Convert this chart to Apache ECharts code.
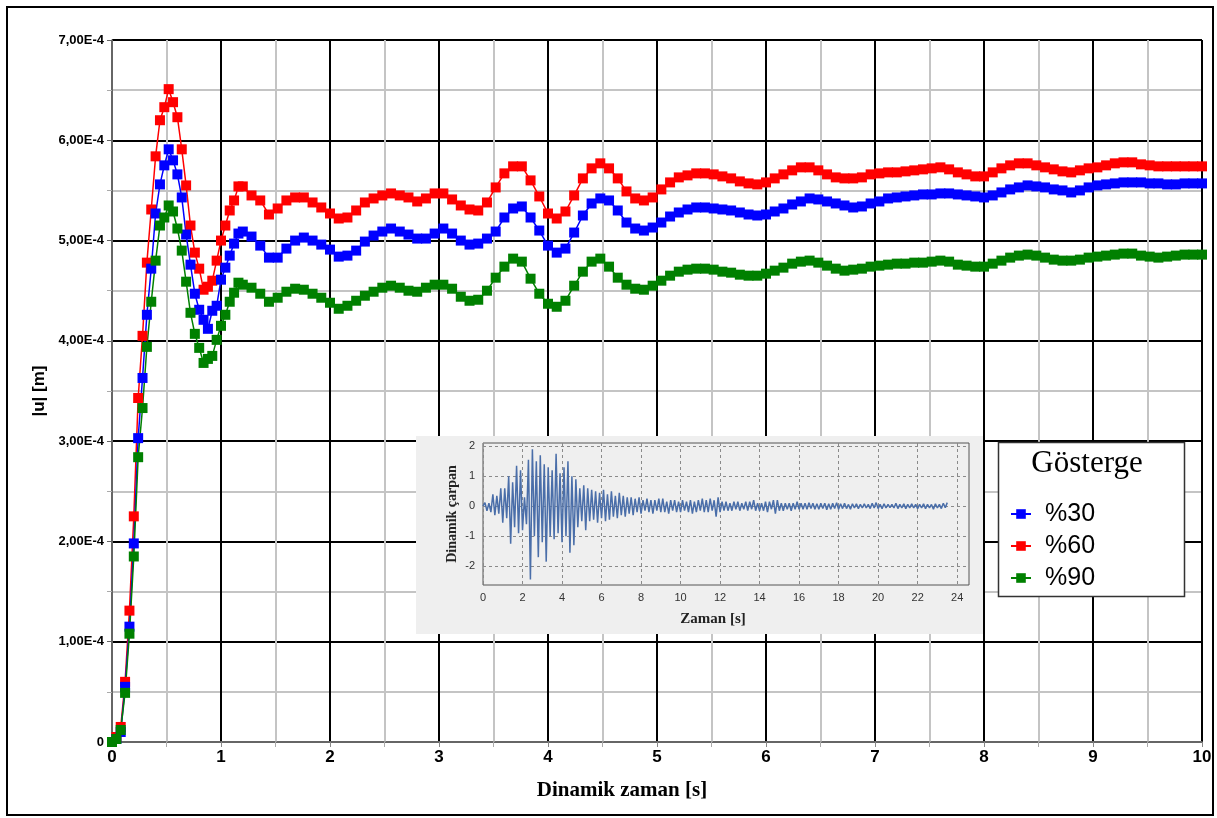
<!DOCTYPE html>
<html>
<head>
<meta charset="utf-8">
<script src="https://cdn.jsdelivr.net/npm/echarts@6/dist/echarts.min.js"></script>
<style>
  html, body { margin: 0; padding: 0; background: #fff; }
  #chart { width: 1217px; height: 818px; }
</style>
</head>
<body>
<div id="chart"></div>
<script>
// Displacement |u| in units of 1e-4 m, sampled every 0.04 s up to 1.2 s, then every 0.08 s
const dispRed60 = [
  0, 0.05, 0.15, 0.60, 1.31, 2.25, 3.43, 4.05, 4.78, 5.31,
  5.84, 6.20, 6.33, 6.51, 6.38, 6.23, 5.91, 5.55, 5.15, 4.88,
  4.72, 4.51, 4.54, 4.60, 4.80, 5.00, 5.15, 5.30, 5.40, 5.54, 5.54,
  5.45, 5.40, 5.26, 5.32, 5.40, 5.43, 5.43, 5.38, 5.33, 5.27,
  5.22, 5.23, 5.30, 5.38, 5.42, 5.45, 5.47, 5.45, 5.43, 5.39,
  5.42, 5.47, 5.47, 5.41, 5.35, 5.31, 5.30, 5.38, 5.53, 5.67,
  5.74, 5.74, 5.60, 5.44, 5.27, 5.22, 5.29, 5.45, 5.62, 5.72,
  5.77, 5.72, 5.62, 5.49, 5.42, 5.40, 5.43, 5.51, 5.58, 5.63,
  5.65, 5.67, 5.67, 5.66, 5.64, 5.62, 5.59, 5.57, 5.56, 5.58,
  5.62, 5.66, 5.70, 5.73, 5.73, 5.70, 5.66, 5.63, 5.62, 5.62,
  5.63, 5.66, 5.67, 5.68, 5.68, 5.69, 5.70, 5.71, 5.72, 5.73,
  5.71, 5.68, 5.66, 5.64, 5.64, 5.68, 5.72, 5.75, 5.77, 5.77,
  5.75, 5.73, 5.71, 5.69, 5.68, 5.70, 5.72, 5.73, 5.75, 5.77,
  5.78, 5.78, 5.76, 5.75, 5.74, 5.74, 5.74, 5.74, 5.74, 5.74
];
const dispBlue30 = [
  0, 0.03, 0.10, 0.55, 1.15, 1.98, 3.03, 3.63, 4.26, 4.72,
  5.27, 5.56, 5.75, 5.91, 5.80, 5.66, 5.43, 5.06, 4.76, 4.47,
  4.31, 4.21, 4.12, 4.30, 4.35, 4.61, 4.73, 4.85, 4.97, 5.07, 5.09,
  5.04, 4.95, 4.83, 4.83, 4.92, 5.00, 5.03, 5.00, 4.96, 4.91,
  4.84, 4.85, 4.90, 4.99, 5.05, 5.09, 5.12, 5.09, 5.06, 5.02,
  5.02, 5.07, 5.12, 5.07, 5.00, 4.96, 4.97, 5.02, 5.09, 5.23,
  5.32, 5.34, 5.23, 5.10, 4.95, 4.88, 4.92, 5.08, 5.25, 5.37,
  5.42, 5.40, 5.30, 5.18, 5.12, 5.10, 5.13, 5.18, 5.24, 5.28,
  5.31, 5.33, 5.33, 5.32, 5.31, 5.30, 5.28, 5.26, 5.25, 5.26,
  5.29, 5.32, 5.36, 5.39, 5.42, 5.41, 5.39, 5.37, 5.35, 5.33,
  5.34, 5.37, 5.39, 5.42, 5.43, 5.44, 5.45, 5.46, 5.46, 5.47,
  5.47, 5.46, 5.45, 5.44, 5.43, 5.45, 5.48, 5.51, 5.53, 5.55,
  5.54, 5.53, 5.51, 5.50, 5.48, 5.50, 5.53, 5.55, 5.56, 5.57,
  5.58, 5.58, 5.58, 5.57, 5.57, 5.56, 5.56, 5.57, 5.57, 5.57
];
const dispGreen90 = [
  0, 0.03, 0.12, 0.49, 1.08, 1.85, 2.84, 3.33, 3.94, 4.39,
  4.80, 5.15, 5.23, 5.35, 5.29, 5.12, 4.90, 4.59, 4.28, 4.07,
  3.93, 3.78, 3.82, 3.85, 4.01, 4.15, 4.26, 4.39, 4.48, 4.58, 4.56,
  4.53, 4.47, 4.39, 4.43, 4.49, 4.52, 4.51, 4.47, 4.43, 4.38,
  4.32, 4.35, 4.40, 4.45, 4.49, 4.53, 4.55, 4.53, 4.50, 4.49,
  4.53, 4.56, 4.56, 4.52, 4.44, 4.40, 4.41, 4.50, 4.63, 4.74,
  4.82, 4.79, 4.62, 4.47, 4.37, 4.34, 4.40, 4.55, 4.69, 4.79,
  4.82, 4.74, 4.63, 4.56, 4.52, 4.51, 4.55, 4.60, 4.65, 4.69,
  4.71, 4.72, 4.72, 4.71, 4.69, 4.68, 4.66, 4.65, 4.65, 4.67,
  4.70, 4.73, 4.77, 4.79, 4.80, 4.78, 4.75, 4.72, 4.70, 4.71,
  4.72, 4.74, 4.75, 4.76, 4.77, 4.77, 4.78, 4.78, 4.79, 4.80,
  4.79, 4.76, 4.75, 4.74, 4.74, 4.77, 4.80, 4.83, 4.85, 4.86,
  4.85, 4.83, 4.81, 4.80, 4.80, 4.81, 4.83, 4.84, 4.85, 4.86,
  4.87, 4.87, 4.85, 4.84, 4.83, 4.84, 4.85, 4.86, 4.86, 4.86
];

// Input record: dynamic multiplier sampled every 0.1 s (0 - 23.5 s)
const multiplier = [
  0, 0.12, -0.15, 0.1, -0.2, 0.4, -0.3, 0.35, -0.25, 0.6,
  -0.55, 0.6, -0.4, 1.0, -1.25, 0.8, -0.7, 1.35, -0.9, 1.2,
  -0.8, 0.3, -0.6, 1.55, -2.45, 1.9, -1.0, 1.5, -1.7, 1.7,
  -1.2, 1.4, -1.85, 1.3, -1.0, 1.2, -1.1, 1.75, -0.9, 1.1,
  -1.2, 1.3, -1.0, 1.5, -1.55, 1.0, -1.3, 0.9, -0.7, 0.6,
  -0.5, 0.7, -0.8, 0.6, -0.5, 0.55, -0.45, 0.5, -0.55, 0.45,
  -0.4, 0.55, -0.5, 0.4, -0.45, 0.5, -0.35, 0.35, -0.4, 0.45,
  -0.3, 0.35, -0.35, 0.3, -0.25, 0.3, -0.3, 0.25, -0.2, 0.3,
  -0.25, 0.2, -0.15, 0.25, -0.2, 0.2, -0.25, 0.2, -0.15, 0.25,
  -0.2, 0.25, -0.2, 0.15, -0.25, 0.2, -0.15, 0.2, -0.2, 0.15,
  -0.2, 0.2, -0.15, 0.15, -0.2, 0.2, -0.25, 0.15, -0.2, 0.2,
  -0.15, 0.25, -0.2, 0.2, -0.2, 0.25, -0.15, 0.2, -0.35, 0.3,
  -0.2, 0.15, -0.15, 0.15, -0.15, 0.1, -0.15, 0.15, -0.1, 0.15,
  -0.15, 0.1, -0.1, 0.15, -0.15, 0.15, -0.1, 0.2, -0.15, 0.1,
  -0.15, 0.1, -0.15, 0.15, -0.2, 0.15, -0.1, 0.2, -0.25, 0.2,
  -0.15, 0.1, -0.15, 0.1, -0.1, 0.1, -0.15, 0.1, -0.1, 0.15,
  -0.1, 0.1, -0.1, 0.1, -0.1, 0.12, -0.08, 0.1, -0.1, 0.08,
  -0.1, 0.1, -0.08, 0.1, -0.12, 0.08, -0.1, 0.1, -0.08, 0.12,
  -0.1, 0.08, -0.08, 0.1, -0.08, 0.06, -0.1, 0.08, -0.06, 0.08,
  -0.08, 0.06, -0.06, 0.08, -0.06, 0.06, -0.08, 0.1, -0.06, 0.12,
  -0.08, 0.06, -0.08, 0.08, -0.06, 0.06, -0.05, 0.06, -0.06, 0.1,
  -0.08, 0.06, -0.06, 0.08, -0.08, 0.06, -0.06, 0.08, -0.06, 0.06,
  -0.08, 0.06, -0.06, 0.08, -0.08, 0.06, -0.06, 0.06, -0.1, 0.08,
  -0.06, 0.06, -0.08, 0.1, -0.05, 0.12
];

const seriesNames = ['%30', '%60', '%90'];
const yTickValues = [-2, -1, 0, 1, 2];
const xTickValues = [0, 2, 4, 6, 8, 10, 12, 14, 16, 18, 20, 22, 24];

// sample times of the displacement output
const time = [];
for (let k = 0; k <= 30; k++) time.push(+(k * 0.04).toFixed(2));
for (let k = 1; k <= 110; k++) time.push(+(1.2 + k * 0.08).toFixed(2));

// sample times of the input record
const recordTime = multiplier.map((_, i) => +(i * 0.1).toFixed(1));

const pair = (xs, ys) => ys.map((v, i) => [xs[i], v]);

const chart = echarts.init(document.getElementById('chart'), null, { renderer: 'canvas' });

const markerSeries = (name, values, color) => ({
  name: name,
  type: 'line',
  xAxisIndex: 0,
  yAxisIndex: 0,
  data: pair(time, values),
  symbol: 'rect',
  symbolSize: 10,
  showSymbol: true,
  lineStyle: { color: color, width: 1.5 },
  itemStyle: { color: color, borderWidth: 0 },
  emphasis: { disabled: true },
  z: 3
});

const option = {
  animation: false,
  backgroundColor: '#ffffff',
  graphic: [
    { type: 'rect', z: 100, silent: true,
      shape: { x: 7, y: 7, width: 1206, height: 808 },
      style: { fill: 'none', stroke: '#000', lineWidth: 2 } },
    { type: 'rect', z: 50, silent: true,
      shape: { x: 416, y: 436, width: 567, height: 198 },
      style: { fill: '#efefef', stroke: 'none' } },
    { type: 'rect', z: 50, silent: true,
      shape: { x: 998.5, y: 442.5, width: 186, height: 154 },
      style: { fill: '#ffffff', stroke: '#333', lineWidth: 1.5 } },
    { type: 'text', z: 60, silent: true, x: 1087, y: 464,
      style: { text: 'Gösterge', fill: '#000', font: '31px "Liberation Serif", "Times New Roman", serif',
               align: 'center', verticalAlign: 'middle' } }
  ],
  legend: {
    data: seriesNames,
    orient: 'vertical',
    left: 1010,
    top: 500,
    padding: 0,
    itemGap: 4,
    itemWidth: 20,
    itemHeight: 12,
    z: 60,
    textStyle: { fontFamily: '"Liberation Sans", Arial, sans-serif', fontSize: 25, color: '#000', lineHeight: 28, padding: [0, 0, 0, 9] },
    selectedMode: false
  },
  grid: [
    { left: 112, top: 40, width: 1090, height: 702, containLabel: false },
    { left: 483, top: 443, width: 486, height: 142, containLabel: false,
      show: true, backgroundColor: 'transparent', borderColor: '#555', borderWidth: 1, z: 55 }
  ],
  xAxis: [
    {
      gridIndex: 0, type: 'value', min: 0, max: 10, interval: 1,
      name: 'Dinamik zaman [s]', nameLocation: 'middle', nameGap: 38,
      nameTextStyle: { fontFamily: '"Liberation Serif", "Times New Roman", serif', fontWeight: 'bold', fontSize: 21, color: '#000', padding: [0, 70, 0, 0] },
      axisLine: { show: true, onZero: false, lineStyle: { color: '#888', width: 1.5 } },
      axisTick: { show: true, length: 5, lineStyle: { color: '#888' } },
      minorTick: { show: true, splitNumber: 2, length: 5, lineStyle: { color: '#aaa' } },
      axisLabel: { margin: 7, fontFamily: '"Liberation Sans Narrow", "Liberation Sans", Arial, sans-serif', fontWeight: 'bold', fontSize: 17, color: '#000' },
      splitLine: { show: true, lineStyle: { color: '#000', width: 2 } },
      minorSplitLine: { show: true, lineStyle: { color: '#c4c4c4', width: 2 } }
    },
    {
      gridIndex: 1, type: 'value', min: 0, max: 24.6,
      name: 'Zaman [s]', nameLocation: 'middle', nameGap: 27,
      nameTextStyle: { fontFamily: '"Liberation Serif", "Times New Roman", serif', fontWeight: 'bold', fontSize: 15, color: '#222', padding: [0, 26, 0, 0] },
      axisLine: { show: false },
      axisTick: { show: false, customValues: xTickValues },
      axisLabel: { customValues: xTickValues, margin: 7, fontSize: 11, color: '#333', fontFamily: '"Liberation Sans", Arial, sans-serif' },
      splitLine: { show: true, lineStyle: { color: '#8a8a8a', width: 1, type: [3, 3] } },
      z: 56
    }
  ],
  yAxis: [
    {
      gridIndex: 0, type: 'value', min: 0, max: 7, interval: 1,
      name: '|u| [m]', nameLocation: 'middle', nameGap: 62,
      nameTextStyle: { fontFamily: '"Liberation Sans", Arial, sans-serif', fontWeight: 'bold', fontSize: 17, color: '#000' },
      axisLine: { show: true, onZero: false, lineStyle: { color: '#888', width: 1.5 } },
      axisTick: { show: true, length: 5, lineStyle: { color: '#666' } },
      minorTick: { show: true, splitNumber: 2, length: 5, lineStyle: { color: '#aaa' } },
      axisLabel: {
        margin: 8, fontFamily: '"Liberation Sans", Arial, sans-serif', fontWeight: 'bold', fontSize: 13, color: '#000',
        formatter: v => (v === 0 ? '0' : v.toFixed(2).replace('.', ',') + 'E-4')
      },
      splitLine: { show: true, lineStyle: { color: '#000', width: 2 } },
      minorSplitLine: { show: true, lineStyle: { color: '#c4c4c4', width: 2 } }
    },
    {
      gridIndex: 1, type: 'value', min: -2.63, max: 2.11,
      name: 'Dinamik çarpan', nameLocation: 'middle', nameGap: 24,
      nameTextStyle: { fontFamily: '"Liberation Serif", "Times New Roman", serif', fontWeight: 'bold', fontSize: 14, color: '#222' },
      axisLine: { show: false },
      axisTick: { show: false, customValues: yTickValues },
      axisLabel: { customValues: yTickValues, margin: 8, fontSize: 11, color: '#333', fontFamily: '"Liberation Sans", Arial, sans-serif' },
      splitLine: { show: true, lineStyle: { color: '#8a8a8a', width: 1, type: [3, 3] } },
      z: 56
    }
  ],
  series: [
    markerSeries('%60', dispRed60, '#ff0000'),
    markerSeries('%30', dispBlue30, '#0000ff'),
    markerSeries('%90', dispGreen90, '#008000'),
    {
      name: 'record',
      type: 'line',
      xAxisIndex: 1,
      yAxisIndex: 1,
      data: pair(recordTime, multiplier),
      showSymbol: false,
      symbol: 'none',
      lineStyle: { color: '#4a6ea9', width: 1.5 },
      emphasis: { disabled: true },
      z: 57
    }
  ]
};

chart.setOption(option);
</script>
</body>
</html>
